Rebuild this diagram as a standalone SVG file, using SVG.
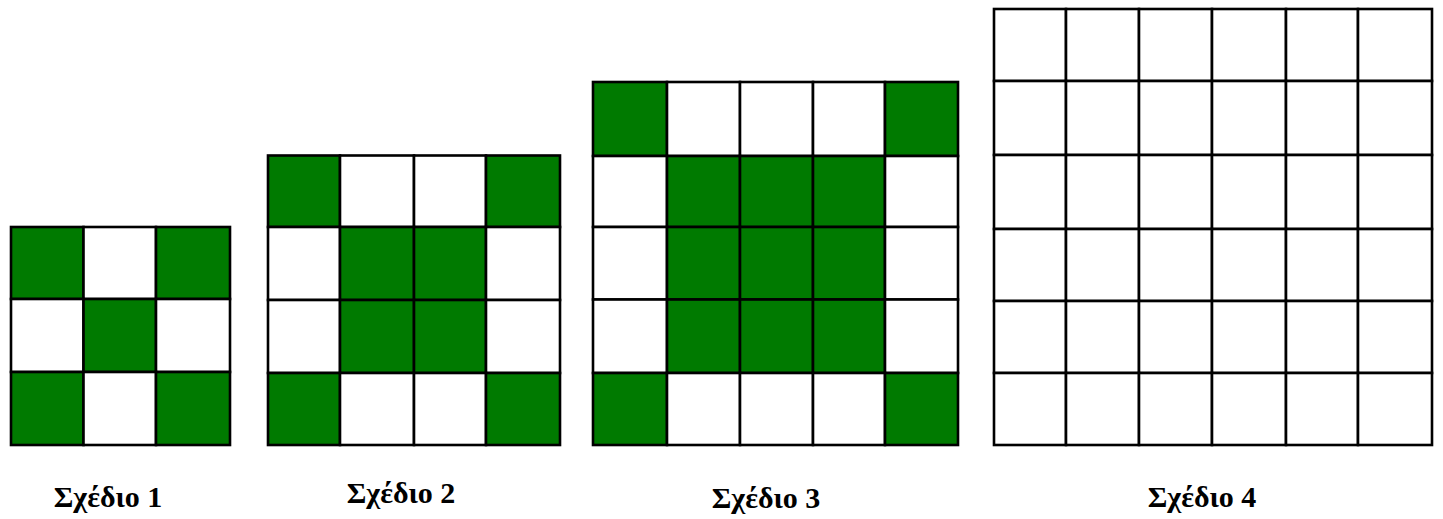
<svg xmlns="http://www.w3.org/2000/svg" width="1443" height="519" viewBox="0 0 1443 519">
<style>
.g,.w{stroke:#000;stroke-width:2.6}
.g{fill:#007a00}
.w{fill:#fff}
text{font-family:"Liberation Serif","Times New Roman",serif;font-weight:bold;font-size:30px;fill:#000;text-anchor:middle}
</style>
<rect x="0" y="0" width="1443" height="519" style="fill:#fff;stroke:none"/>
<g id="sxedio1">
<rect class="g" x="11" y="227" width="72.5" height="72"/>
<rect class="w" x="83.5" y="227" width="72.5" height="72"/>
<rect class="g" x="156" y="227" width="74" height="72"/>
<rect class="w" x="11" y="299" width="72.5" height="73"/>
<rect class="g" x="83.5" y="299" width="72.5" height="73"/>
<rect class="w" x="156" y="299" width="74" height="73"/>
<rect class="g" x="11" y="372" width="72.5" height="73"/>
<rect class="w" x="83.5" y="372" width="72.5" height="73"/>
<rect class="g" x="156" y="372" width="74" height="73"/>
<text x="108" y="507">Σχέδιο 1</text>
</g>
<g id="sxedio2">
<rect class="g" x="268" y="155.5" width="72" height="71.5"/>
<rect class="w" x="340" y="155.5" width="74" height="71.5"/>
<rect class="w" x="414" y="155.5" width="72" height="71.5"/>
<rect class="g" x="486" y="155.5" width="74" height="71.5"/>
<rect class="w" x="268" y="227" width="72" height="73"/>
<rect class="g" x="340" y="227" width="74" height="73"/>
<rect class="g" x="414" y="227" width="72" height="73"/>
<rect class="w" x="486" y="227" width="74" height="73"/>
<rect class="w" x="268" y="300" width="72" height="73"/>
<rect class="g" x="340" y="300" width="74" height="73"/>
<rect class="g" x="414" y="300" width="72" height="73"/>
<rect class="w" x="486" y="300" width="74" height="73"/>
<rect class="g" x="268" y="373" width="72" height="72"/>
<rect class="w" x="340" y="373" width="74" height="72"/>
<rect class="w" x="414" y="373" width="72" height="72"/>
<rect class="g" x="486" y="373" width="74" height="72"/>
<text x="401" y="503">Σχέδιο 2</text>
</g>
<g id="sxedio3">
<rect class="g" x="593" y="82" width="74" height="74"/>
<rect class="w" x="667" y="82" width="73" height="74"/>
<rect class="w" x="740" y="82" width="73" height="74"/>
<rect class="w" x="813" y="82" width="72" height="74"/>
<rect class="g" x="885" y="82" width="73" height="74"/>
<rect class="w" x="593" y="156" width="74" height="71"/>
<rect class="g" x="667" y="156" width="73" height="71"/>
<rect class="g" x="740" y="156" width="73" height="71"/>
<rect class="g" x="813" y="156" width="72" height="71"/>
<rect class="w" x="885" y="156" width="73" height="71"/>
<rect class="w" x="593" y="227" width="74" height="72.5"/>
<rect class="g" x="667" y="227" width="73" height="72.5"/>
<rect class="g" x="740" y="227" width="73" height="72.5"/>
<rect class="g" x="813" y="227" width="72" height="72.5"/>
<rect class="w" x="885" y="227" width="73" height="72.5"/>
<rect class="w" x="593" y="299.5" width="74" height="73.5"/>
<rect class="g" x="667" y="299.5" width="73" height="73.5"/>
<rect class="g" x="740" y="299.5" width="73" height="73.5"/>
<rect class="g" x="813" y="299.5" width="72" height="73.5"/>
<rect class="w" x="885" y="299.5" width="73" height="73.5"/>
<rect class="g" x="593" y="373" width="74" height="72"/>
<rect class="w" x="667" y="373" width="73" height="72"/>
<rect class="w" x="740" y="373" width="73" height="72"/>
<rect class="w" x="813" y="373" width="72" height="72"/>
<rect class="g" x="885" y="373" width="73" height="72"/>
<text x="766" y="508">Σχέδιο 3</text>
</g>
<g id="sxedio4">
<rect class="w" x="994" y="9" width="72" height="72"/>
<rect class="w" x="1066" y="9" width="73" height="72"/>
<rect class="w" x="1139" y="9" width="73" height="72"/>
<rect class="w" x="1212" y="9" width="74" height="72"/>
<rect class="w" x="1286" y="9" width="72" height="72"/>
<rect class="w" x="1358" y="9" width="74" height="72"/>
<rect class="w" x="994" y="81" width="72" height="74"/>
<rect class="w" x="1066" y="81" width="73" height="74"/>
<rect class="w" x="1139" y="81" width="73" height="74"/>
<rect class="w" x="1212" y="81" width="74" height="74"/>
<rect class="w" x="1286" y="81" width="72" height="74"/>
<rect class="w" x="1358" y="81" width="74" height="74"/>
<rect class="w" x="994" y="155" width="72" height="74"/>
<rect class="w" x="1066" y="155" width="73" height="74"/>
<rect class="w" x="1139" y="155" width="73" height="74"/>
<rect class="w" x="1212" y="155" width="74" height="74"/>
<rect class="w" x="1286" y="155" width="72" height="74"/>
<rect class="w" x="1358" y="155" width="74" height="74"/>
<rect class="w" x="994" y="229" width="72" height="72"/>
<rect class="w" x="1066" y="229" width="73" height="72"/>
<rect class="w" x="1139" y="229" width="73" height="72"/>
<rect class="w" x="1212" y="229" width="74" height="72"/>
<rect class="w" x="1286" y="229" width="72" height="72"/>
<rect class="w" x="1358" y="229" width="74" height="72"/>
<rect class="w" x="994" y="301" width="72" height="72"/>
<rect class="w" x="1066" y="301" width="73" height="72"/>
<rect class="w" x="1139" y="301" width="73" height="72"/>
<rect class="w" x="1212" y="301" width="74" height="72"/>
<rect class="w" x="1286" y="301" width="72" height="72"/>
<rect class="w" x="1358" y="301" width="74" height="72"/>
<rect class="w" x="994" y="373" width="72" height="72"/>
<rect class="w" x="1066" y="373" width="73" height="72"/>
<rect class="w" x="1139" y="373" width="73" height="72"/>
<rect class="w" x="1212" y="373" width="74" height="72"/>
<rect class="w" x="1286" y="373" width="72" height="72"/>
<rect class="w" x="1358" y="373" width="74" height="72"/>
<text x="1202" y="507">Σχέδιο 4</text>
</g>
<g id="connectors"/>
</svg>
